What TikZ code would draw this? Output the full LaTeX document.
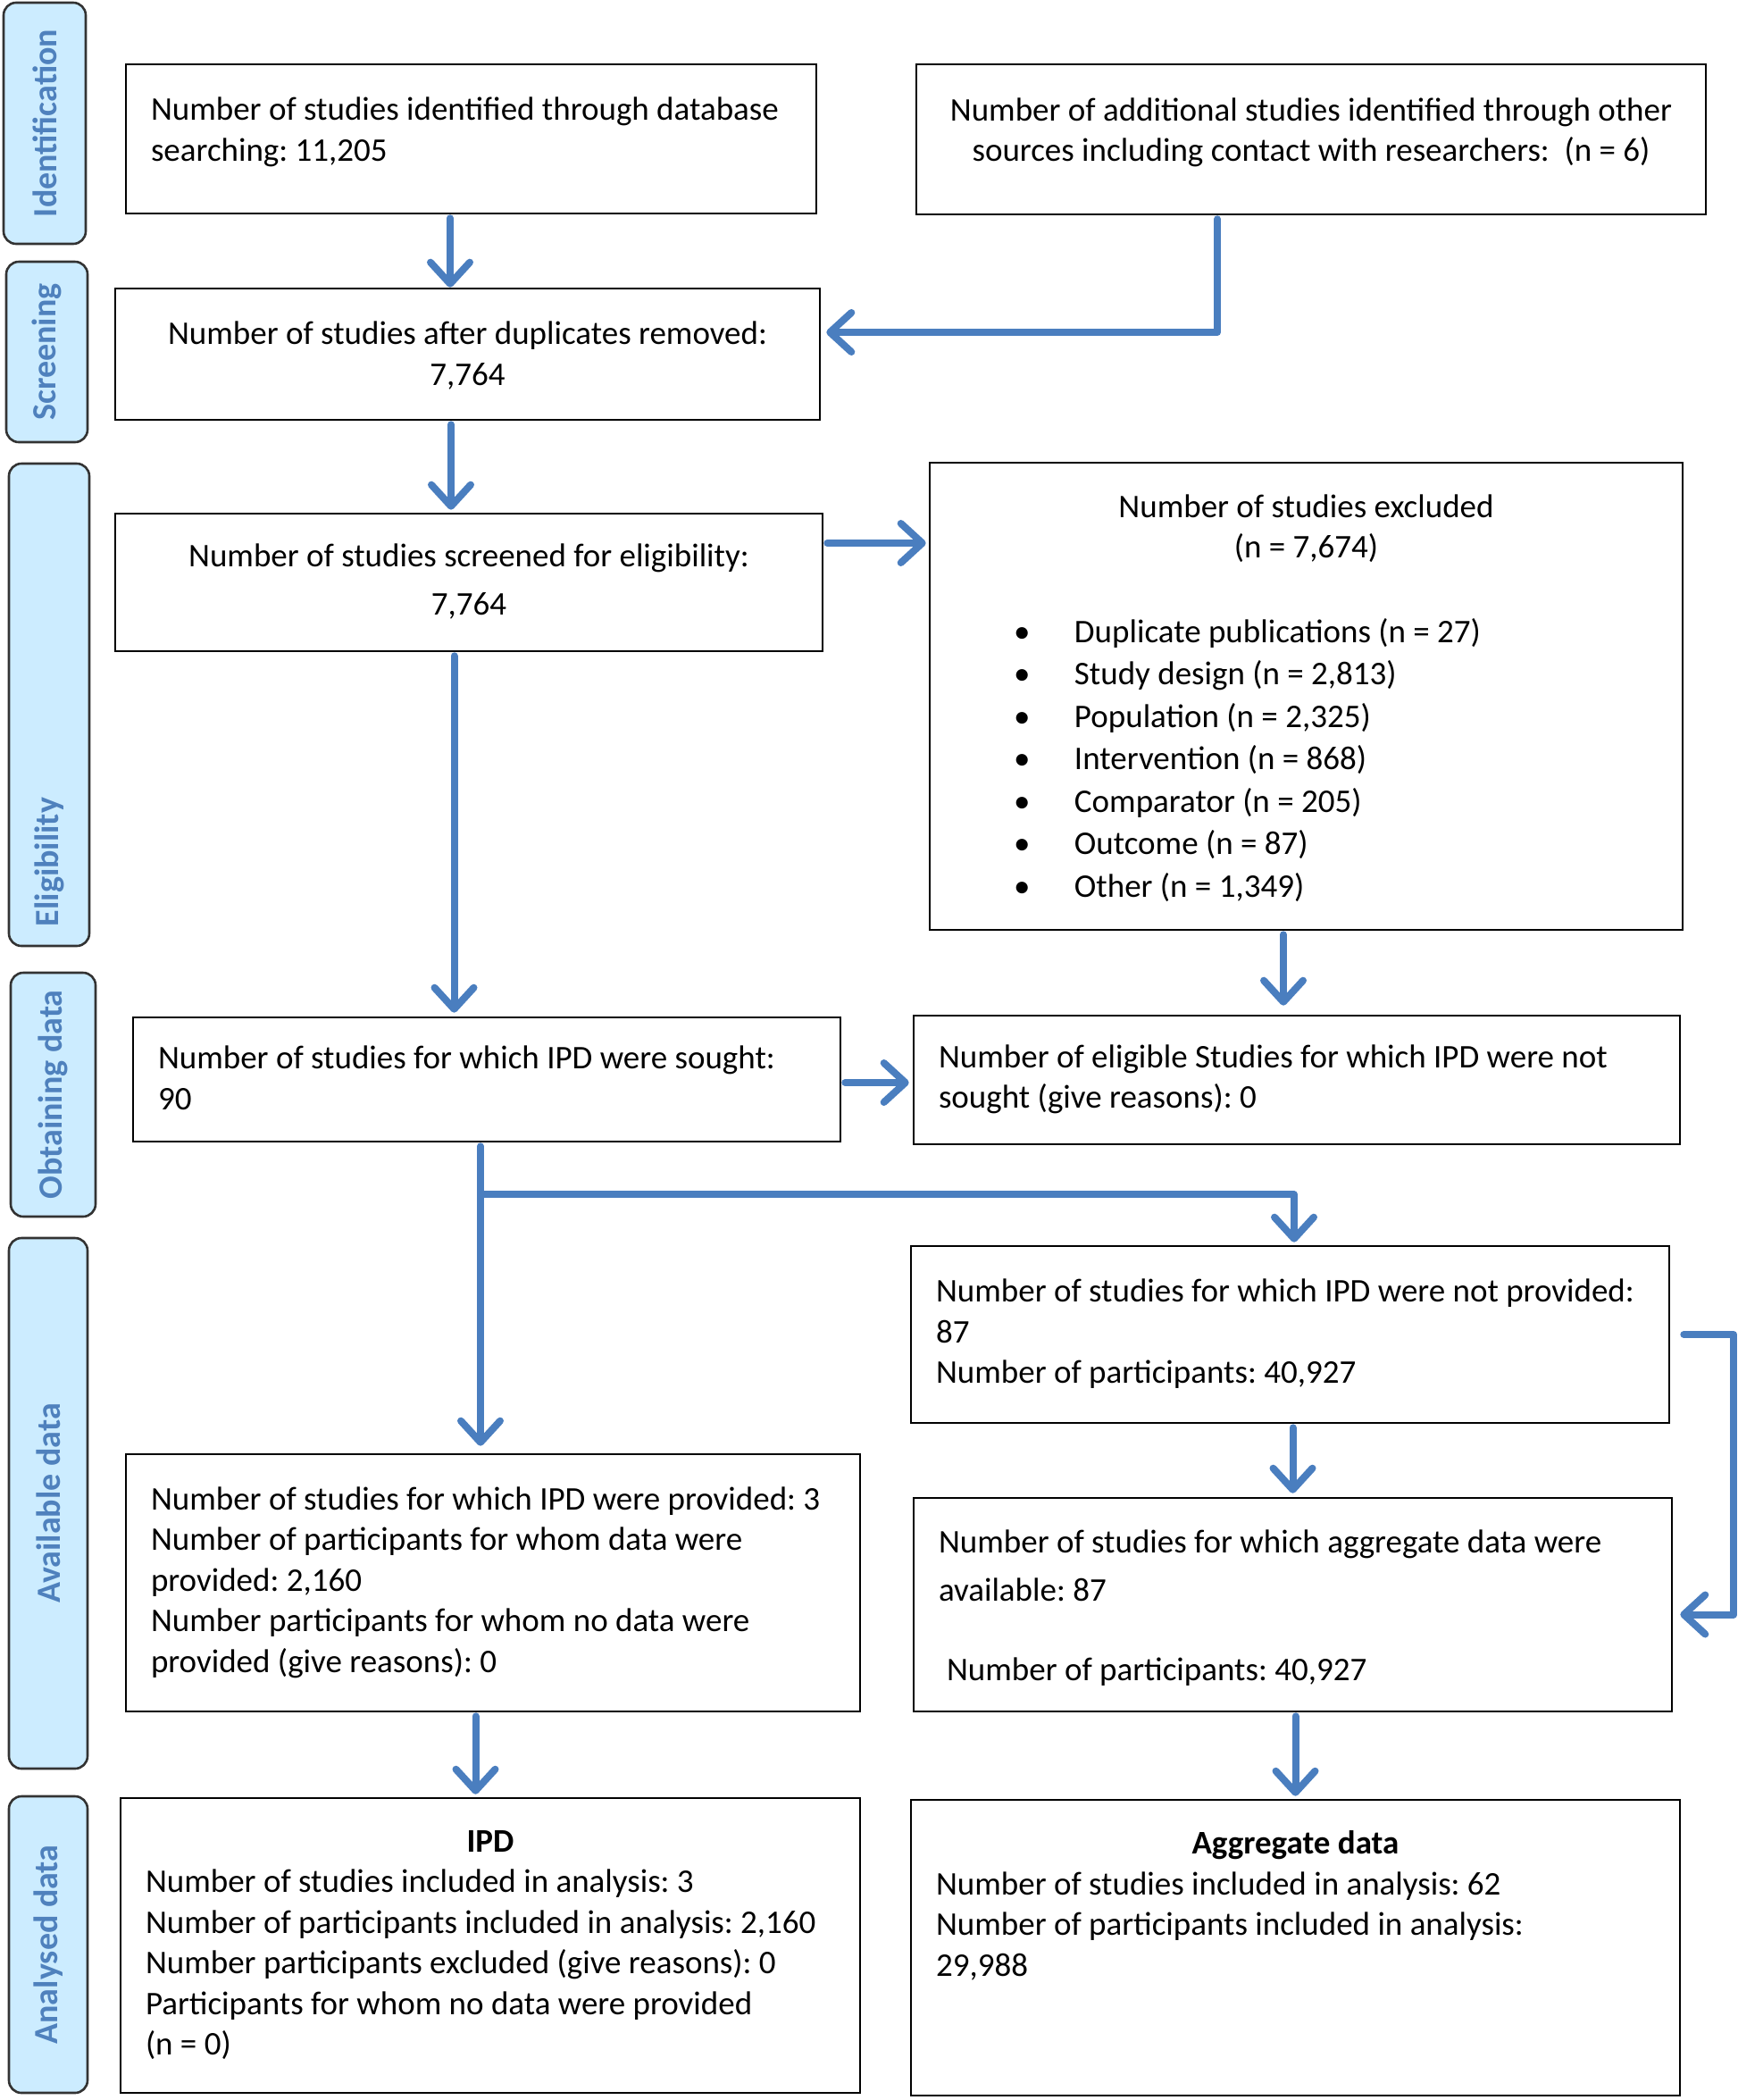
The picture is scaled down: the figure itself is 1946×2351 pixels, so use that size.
\documentclass[tikz,border=0pt]{standalone}
\usepackage{fontspec}
\setmainfont{Carlito}
\usetikzlibrary{arrows.meta,calc}
\definecolor{arrowblue}{HTML}{4A7EBF}
\definecolor{tabfill}{HTML}{CCECFF}
\definecolor{tabtext}{HTML}{4F81BD}
\newcommand\bxt[2]{\makebox[#1][l]{\begin{tabular}{@{}l@{}}#2\end{tabular}}}
\newcommand\bxc[1]{\begin{tabular}{@{}c@{}}#1\end{tabular}}
\newcommand\bul[1]{\hspace{66pt}\makebox[68pt][l]{\textbullet}#1}
\newcommand\lift[2]{\raisebox{#1}[\height][\depth]{#2}}
\frenchspacing
\begin{document}
\begin{tikzpicture}[x=1pt,y=-1pt,
  box/.style={draw=black, line width=2.6pt, fill=white, inner sep=0pt,
    font=\fontsize{37pt}{45.5pt}\selectfont\frenchspacing},
  tab/.style={draw=black!80, line width=2.6pt, fill=tabfill, rounded corners=14pt, inner sep=0pt},
  tablbl/.style={rotate=90, text=tabtext, font=\fontsize{38pt}{45pt}\selectfont\bfseries, inner sep=0pt},
  arr/.style={draw=arrowblue, line width=8pt, line cap=round, line join=round,
    -{Straight Barb[round,length=24pt,width=44pt]}, shorten <=4pt}
]
\useasboundingbox (0,0) rectangle (1946,2351);

% side tabs
\node[tab, minimum width=92pt, minimum height=270pt] (t1) at (50,138) {};
\node[tab, minimum width=91pt, minimum height=202pt] (t2) at (52.5,394) {};
\node[tab, minimum width=90pt, minimum height=540pt] (t3) at (55,789) {};
\node[tab, minimum width=95pt, minimum height=273pt] (t4) at (59.5,1225.5) {};
\node[tab, minimum width=88pt, minimum height=594pt] (t5) at (54,1683) {};
\node[tab, minimum width=88pt, minimum height=332pt] (t6) at (54,2177) {};
\node[tablbl] (l1) at (t1.center) {Identification};
\node[tablbl] (l2) at (t2.center) {Screening};
\node[tablbl] (l3) at (55,965) {Eligibility};
\node[tablbl] (l4) at (t4.center) {Obtaining data};
\node[tablbl] (l5) at (t5.center) {Available data};
\node[tablbl] (l6) at (t6.center) {Analysed data};

% boxes
\node[box, minimum width=773pt, minimum height=167pt] (db) at (527.5,155.5)
  {\lift{7pt}{\bxt{717pt}{Number of studies identified through database\\searching: 11,205}}};
\node[box, minimum width=884pt, minimum height=168pt] (oth) at (1468,156)
  {\lift{7pt}{\bxc{Number of additional studies identified through other\\sources including contact with researchers:~ (n = 6)}}};
\node[box, minimum width=789pt, minimum height=147pt] (dup) at (523.5,396.5)
  {\lift{-3pt}{\bxc{Number of studies after duplicates removed:\\7,764}}};
\node[box, minimum width=792pt, minimum height=154pt] (scr) at (525,652)
  {\bxc{Number of studies screened for eligibility:\\[8.5pt]7,764}};
\node[box, minimum width=843pt, minimum height=523pt] (exc) at (1462.5,779.5)
  {\lift{-3pt}{\begin{tabular}{@{}l@{}}
   \makebox[787pt][c]{Number of studies excluded}\\
   \makebox[787pt][c]{(n = 7,674)}\\[49pt]
   \bul{Duplicate publications (n = 27)}\\[2pt]
   \bul{Study design (n = 2,813)}\\[2pt]
   \bul{Population (n = 2,325)}\\[2pt]
   \bul{Intervention (n = 868)}\\[2pt]
   \bul{Comparator (n = 205)}\\[2pt]
   \bul{Outcome (n = 87)}\\[2pt]
   \bul{Other (n = 1,349)}
   \end{tabular}}};
\node[box, minimum width=792pt, minimum height=139pt] (sou) at (545,1208.5)
  {\lift{-2pt}{\bxt{736pt}{Number of studies for which IPD were sought:\\90}}};
\node[box, minimum width=858pt, minimum height=144pt] (nsou) at (1452,1209)
  {\bxt{802pt}{Number of eligible Studies for which IPD were not\\sought (give reasons): 0}};
\node[box, minimum width=849pt, minimum height=198pt] (npro) at (1444.5,1494)
  {\bxt{793pt}{Number of studies for which IPD were not provided:\\87\\Number of participants: 40,927}};
\node[box, minimum width=822pt, minimum height=288pt] (ipro) at (552,1772)
  {\bxt{766pt}{Number of studies for which IPD were provided: 3\\Number of participants for whom data were\\provided: 2,160\\Number participants for whom no data were\\provided (give reasons): 0}};
\node[box, minimum width=849pt, minimum height=239pt] (agav) at (1447.5,1796.5)
  {\lift{-4.5pt}{\bxt{793pt}{Number of studies for which aggregate data were\\[8.5pt]available: 87\\[43pt]\hspace{9pt}Number of participants: 40,927}}};
\node[box, minimum width=828pt, minimum height=330pt] (ipa) at (549,2178)
  {\bxt{772pt}{\makebox[772pt][c]{\bfseries IPD}\\Number of studies included in analysis: 3\\Number of participants included in analysis: 2,160\\Number participants excluded (give reasons): 0\\Participants for whom no data were provided\\(n = 0)}};
\node[box, minimum width=861pt, minimum height=331pt] (aga) at (1450.5,2180.5)
  {\bxt{805pt}{\makebox[805pt][c]{\bfseries Aggregate data}\\Number of studies included in analysis: 62\\Number of participants included in analysis:\\29,988\\ \\ {}}};

% connectors
\draw[arr] ([xshift=-23.5pt]db.south) -- ([xshift=-23.5pt]db.south |- dup.north);
\draw[arr] ([xshift=-105pt]oth.south) |- ([yshift=24.5pt,xshift=6pt]dup.east);
\draw[arr, shorten >=3pt] ([xshift=-18.5pt]dup.south) -- ([xshift=-18.5pt]dup.south |- scr.north);
\draw[arr, shorten >=3pt] ([yshift=44pt]scr.east) -- ([yshift=44pt]scr.east -| exc.west);
\draw[arr, shorten >=4pt] ([xshift=-16.5pt]scr.south) -- ([xshift=-16.5pt]scr.south |- sou.north);
\draw[arr, shorten >=10pt] ([xshift=-25.5pt]exc.south) -- ([xshift=-25.5pt]exc.south |- nsou.north);
\draw[arr, shorten >=4pt] ([yshift=-3.5pt]sou.east) -- ([yshift=-3.5pt]sou.east -| nsou.west);
\draw[arr, shorten >=8pt] ([xshift=-7pt]sou.south) -- ([xshift=-7pt]sou.south |- ipro.north);
\coordinate (br) at ([xshift=-7pt,yshift=-58pt]sou.south);
\draw[arr, shorten <=0pt, shorten >=3pt] (br) -| ([xshift=4.5pt]npro.north);
\draw[arr, shorten >=4pt] ([xshift=3pt]npro.south) -- ([xshift=3pt]npro.south |- agav.north);
\draw[arr, shorten <=0pt] ([xshift=15pt]npro.east) -- ++(56,0) |- ([yshift=-11pt,xshift=8pt]agav.east);
\draw[arr, shorten >=3pt] ([xshift=-19.5pt]ipro.south) -- ([xshift=-19.5pt]ipro.south |- ipa.north);
\draw[arr, shorten >=3pt] ([xshift=3pt]agav.south) -- ([xshift=3pt]agav.south |- aga.north);
\end{tikzpicture}
\end{document}
